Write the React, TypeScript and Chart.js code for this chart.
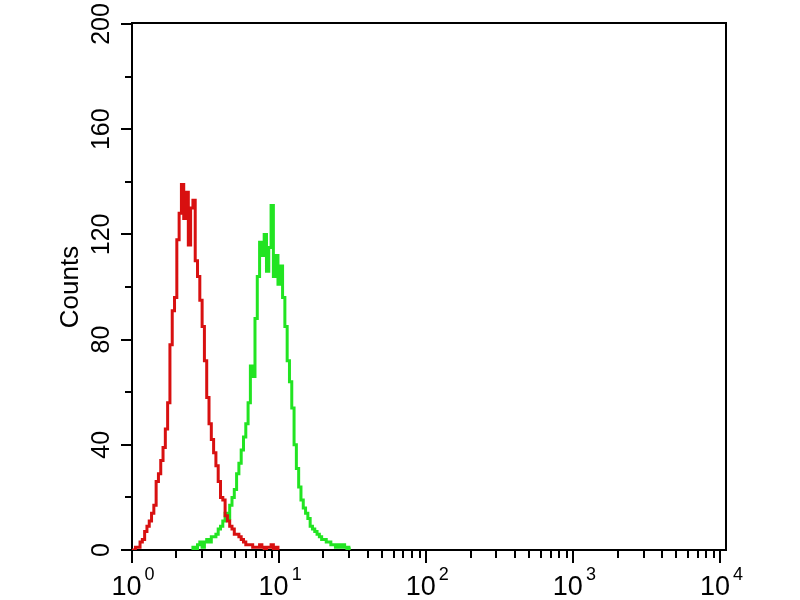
import { useEffect, useRef } from "react";
import { Chart, registerables } from "chart.js";

Chart.register(...registerables);

// Histogram channels: 64 channels per decade on a 4-decade log axis
const CHANNELS_PER_DECADE = 64;

const redStartChannel = 0;
const redCounts = [
  0, 0, 1, 1, 3, 4, 7, 9, 11, 14,
  17, 26, 29, 34, 39, 46, 56, 78, 91, 96,
  118, 128, 139, 126, 136, 116, 130, 133, 110, 104,
  95, 85, 72, 58, 48, 42, 37, 32, 26, 20,
  19, 13, 11, 9, 8, 6, 6, 5, 4, 3,
  2, 2, 2, 1, 1, 1, 2, 1, 0, 1,
  1, 2, 0, 1, 0,
];

const greenStartChannel = 26;
const greenCounts = [
  0, 1, 0, 2, 3, 1, 3, 4, 3, 5,
  5, 6, 8, 9, 11, 14, 12, 17, 20, 23,
  29, 33, 38, 43, 48, 56, 70, 66, 88, 104,
  117, 112, 120, 106, 115, 131, 104, 112, 101, 108,
  96, 85, 72, 64, 54, 40, 31, 24, 19, 16,
  14, 12, 9, 8, 7, 6, 5, 4, 4, 3,
  3, 2, 2, 1, 2, 1, 2, 1, 0, 1,
];

const yTickValues = [0, 40, 80, 120, 160, 200];
const yMinorTickValues = [20, 60, 100, 140, 180];
const xDecadeExponents = [0, 1, 2, 3, 4];
const xMinorMultipliers = [2, 3, 4, 5, 6, 7, 8, 9];
const yAxisTitle = "Counts";

const FONT = '"Liberation Sans", Arial, Helvetica, sans-serif';

function toPoints(start: number, counts: number[]) {
  return counts.map((c, i) => ({
    x: Math.pow(10, (start + i) / CHANNELS_PER_DECADE),
    y: c,
  }));
}

const axisDecor = {
  id: "axisDecor",
  afterDraw(chart: any) {
    const { ctx, chartArea: a, scales } = chart;
    const xs = scales.x;
    const ys = scales.y;
    ctx.save();
    ctx.strokeStyle = "#000";
    ctx.lineWidth = 2;
    ctx.beginPath();
    // top and right frame
    ctx.moveTo(a.left - 1, a.top - 1);
    ctx.lineTo(a.right + 1, a.top - 1);
    ctx.moveTo(a.right, a.top - 2);
    ctx.lineTo(a.right, a.bottom + 1);
    // x ticks
    xDecadeExponents.forEach((e) => {
      const px = Math.round(xs.getPixelForValue(Math.pow(10, e)));
      ctx.moveTo(px, a.bottom);
      ctx.lineTo(px, a.bottom + 13);
    });
    xDecadeExponents.slice(0, -1).forEach((e) => {
      xMinorMultipliers.forEach((m) => {
        const px = Math.round(xs.getPixelForValue(m * Math.pow(10, e)));
        ctx.moveTo(px, a.bottom);
        ctx.lineTo(px, a.bottom + 8);
      });
    });
    // y ticks
    yTickValues.forEach((v) => {
      const py = Math.round(ys.getPixelForValue(v));
      ctx.moveTo(a.left, py);
      ctx.lineTo(a.left - 11, py);
    });
    yMinorTickValues.forEach((v) => {
      const py = Math.round(ys.getPixelForValue(v));
      ctx.moveTo(a.left, py);
      ctx.lineTo(a.left - 7, py);
    });
    ctx.stroke();

    // x labels: 10 with superscript exponent
    ctx.fillStyle = "#000";
    ctx.textBaseline = "alphabetic";
    ctx.textAlign = "left";
    xDecadeExponents.forEach((e) => {
      const px = xs.getPixelForValue(Math.pow(10, e));
      ctx.font = `27px ${FONT}`;
      const w1 = ctx.measureText("10").width;
      ctx.font = `18px ${FONT}`;
      const w2 = ctx.measureText(String(e)).width;
      const gap = 3;
      const start = px + 1 - (w1 + gap + w2) / 2;
      ctx.font = `27px ${FONT}`;
      ctx.fillText("10", start, a.bottom + 45);
      ctx.font = `18px ${FONT}`;
      ctx.fillText(String(e), start + w1 + gap, a.bottom + 30);
    });
    ctx.restore();
  },
};

export default function App() {
  const canvasRef = useRef<HTMLCanvasElement | null>(null);

  useEffect(() => {
    document.body.style.margin = "0";
    const canvas = canvasRef.current;
    if (!canvas) return;
    const chart = new Chart(canvas, {
      type: "line",
      data: {
        datasets: [
          {
            label: "red",
            data: toPoints(redStartChannel, redCounts),
            borderColor: "#d81010",
            borderWidth: 3,
            pointRadius: 0,
            stepped: "middle",
            fill: false,
          },
          {
            label: "green",
            data: toPoints(greenStartChannel, greenCounts),
            borderColor: "#22e422",
            borderWidth: 3,
            pointRadius: 0,
            stepped: "middle",
            fill: false,
          },
        ],
      },
      options: {
        animation: false,
        responsive: false,
        maintainAspectRatio: false,
        devicePixelRatio: 1,
        layout: { padding: { left: 0, right: 74, top: 22, bottom: 0 } },
        plugins: {
          legend: { display: false },
          tooltip: { enabled: false },
        },
        scales: {
          x: {
            type: "logarithmic",
            min: 1,
            max: 10900,
            grid: { display: false, drawTicks: false },
            border: { display: true, color: "#000", width: 2 },
            ticks: { display: false },
            afterFit: (scale: any) => {
              scale.height = 50;
            },
          },
          y: {
            type: "linear",
            min: 0,
            max: 200,
            afterBuildTicks: (scale: any) => {
              scale.ticks = yTickValues.map((v) => ({ value: v }));
            },
            grid: { display: false, drawTicks: false },
            border: { display: true, color: "#000", width: 2 },
            ticks: {
              color: "#000",
              font: { family: FONT, size: 25 },
              minRotation: 90,
              maxRotation: 90,
              crossAlign: "center",
              padding: 9,
              callback: (v: any) => String(v),
            },
            title: {
              display: true,
              text: yAxisTitle,
              color: "#000",
              font: { family: FONT, size: 26 },
              padding: { top: 55, bottom: 0 },
            },
            afterFit: (scale: any) => {
              scale.width = 132;
            },
          },
        },
      },
      plugins: [axisDecor],
    } as any);
    return () => chart.destroy();
  }, []);

  return (
    <div style={{ position: "absolute", left: 0, top: 0, width: 800, height: 600, background: "#fff" }}>
      <canvas ref={canvasRef} width={800} height={600} style={{ display: "block" }} />
    </div>
  );
}
